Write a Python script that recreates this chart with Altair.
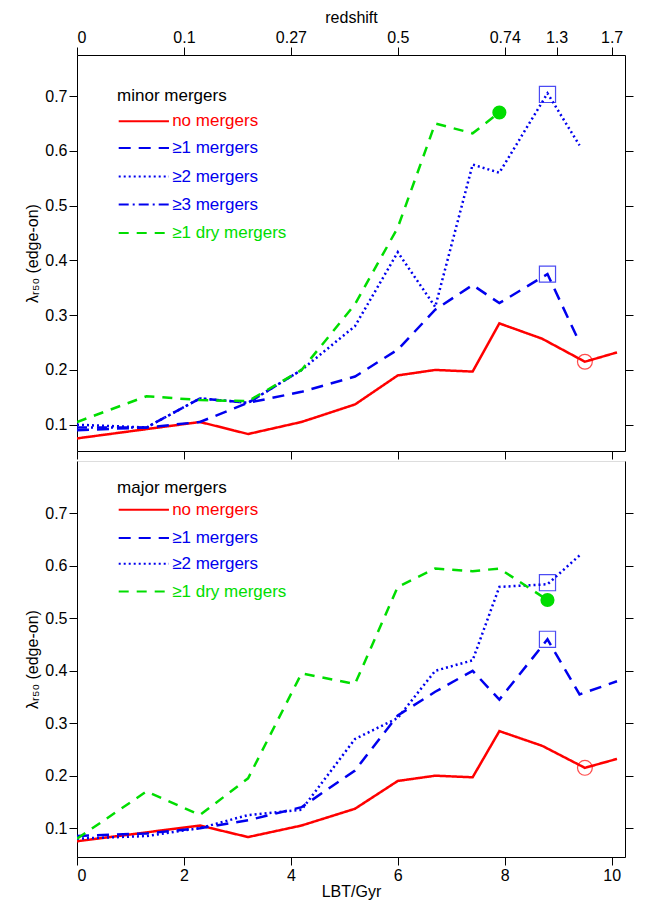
import altair as alt
import pandas as pd

LBT = [0, 1.3, 2.3, 3.2, 4.2, 5.2, 6.0, 6.7, 7.4, 7.9, 8.8, 9.4, 10.1]
red_x = [0, 2.3, 3.2, 4.2, 5.2, 6.0, 6.7, 7.4, 7.9, 8.7, 9.5, 10.1]
red_y = [0.075, 0.105, 0.083, 0.105, 0.137, 0.19, 0.2, 0.197, 0.285, 0.257, 0.215, 0.232]

t_b1 = [0.09, 0.095, 0.105, 0.14, 0.16, 0.188, 0.237, 0.31, 0.355, 0.322, 0.375, 0.25]
t_b2 = [0.1, 0.095, 0.148, 0.14, 0.2, 0.28, 0.415, 0.315, 0.575, 0.56, 0.705, 0.61]
t_b3 = [0.095, 0.095, 0.148, 0.14, 0.2]
t_g = [0.105, 0.152, 0.145, 0.143, 0.2, 0.32, 0.46, 0.65, 0.632, 0.67]

b_b1 = [0.085, 0.09, 0.1, 0.115, 0.14, 0.21, 0.315, 0.36, 0.4, 0.345, 0.46, 0.355, 0.38]
b_b2 = [0.08, 0.085, 0.1, 0.125, 0.135, 0.27, 0.31, 0.4, 0.42, 0.56, 0.565, 0.62]
b_g = [0.08, 0.17, 0.125, 0.195, 0.395, 0.375, 0.56, 0.595, 0.59, 0.595, 0.535]

z_pos = [0, 2, 4, 6, 8, 8.97, 10]
z_lab = ["0", "0.1", "0.27", "0.5", "0.74", "1.3", "1.7"]

RED, BLUE, GREEN = "#ff0000", "#0000ee", "#00dd00"
FONT = "Liberation Sans"
W, H = 548, 396
YT = "λᵣ₅₀ (edge-on)"

styles = {
    "no": (RED, [1, 0], 2.5),
    "b1": (BLUE, [12, 8], 2.5),
    "b2": (BLUE, [2, 3], 2.5),
    "b3": (BLUE, [10, 4, 2, 4], 2.5),
    "g": (GREEN, [10, 8], 2.5),
}
common = dict(labelFontSize=16, titleFontSize=16, labelFont=FONT, titleFont=FONT, grid=False,
              domainColor="black", tickColor="black", labelColor="black", titleColor="black",
              titleFontWeight="normal", tickSize=8)


def panel(series, markers, legend, ydom, is_top, bottom):
    xs = alt.Scale(domain=[0, 10.25], nice=False)
    ys = alt.Scale(domain=ydom, nice=False)
    X = lambda: alt.X("x:Q", scale=xs, axis=None)
    Y = lambda: alt.Y("y:Q", scale=ys, axis=None)
    layers = []
    mdf = pd.DataFrame({"x": [0], "y": [ydom[0]]})
    xa = alt.Axis(title="LBT/Gyr" if bottom else None, labels=bottom,
                  values=[0, 2, 4, 6, 8, 10], labelPadding=2, titlePadding=0, **common)
    ya = alt.Axis(title=YT, values=[0.1, 0.2, 0.3, 0.4, 0.5, 0.6, 0.7], format=".1f", **common)
    layers.append(alt.Chart(mdf).mark_point(opacity=0)
                  .encode(x=alt.X("x:Q", scale=xs, axis=xa), y=alt.Y("y:Q", scale=ys, axis=ya)))
    for key, xv, yv in series:
        c, d, w = styles[key]
        df = pd.DataFrame({"x": xv[:len(yv)], "y": yv})
        layers.append(alt.Chart(df).mark_line(color=c, strokeDash=d, strokeWidth=w, clip=True)
                      .encode(x=X(), y=Y()))
    for kind, c, mx, my in markers:
        df = pd.DataFrame({"x": [mx], "y": [my]})
        if kind == "circle_open":
            m = alt.Chart(df).mark_point(shape="circle", size=220, color=c, strokeWidth=1.2, filled=False)
        elif kind == "circle_filled":
            m = alt.Chart(df).mark_point(shape="circle", size=200, color=c, filled=True, opacity=1)
        else:
            m = alt.Chart(df).mark_point(shape="square", size=260, color=c, strokeWidth=1.2, filled=False)
        layers.append(m.encode(x=X(), y=Y()))
    title, entries = legend
    tdf = pd.DataFrame({"x": [0.75], "y": [title[1]], "t": [title[0]]})
    layers.append(alt.Chart(tdf).mark_text(align="left", baseline="middle", fontSize=17, font=FONT,
                                           color="black")
                  .encode(x=X(), y=Y(), text="t:N"))
    for key, label, ly in entries:
        c, d, w = styles[key]
        ldf = pd.DataFrame({"x": [0.78, 1.72], "y": [ly, ly]})
        layers.append(alt.Chart(ldf).mark_line(color=c, strokeDash=d, strokeWidth=2)
                      .encode(x=X(), y=Y()))
        tx = pd.DataFrame({"x": [1.78], "y": [ly], "t": [label]})
        layers.append(alt.Chart(tx).mark_text(align="left", baseline="middle", fontSize=17,
                                              font=FONT, color=c)
                      .encode(x=X(), y=Y(), text="t:N"))
    right_axis = alt.Axis(orient="right", values=[0.1, 0.2, 0.3, 0.4, 0.5, 0.6, 0.7],
                          labels=False, title=None, **common)
    if is_top:
        expr = " : ".join([f"datum.value == {p} ? '{l}'" for p, l in zip(z_pos, z_lab)]) + " : ''"
        top_axis = alt.Axis(orient="top", values=z_pos, labelExpr=expr, title="redshift", **common)
        xenc = alt.X("x:Q", scale=xs, axis=top_axis)
    else:
        xenc = X()
    layers.append(alt.Chart(mdf).mark_point(opacity=0)
                  .encode(x=xenc, y=alt.Y("y:Q", scale=ys, axis=right_axis)))
    return alt.layer(*layers).resolve_axis(x="independent", y="independent").properties(width=W, height=H)


top = panel(
    [("no", red_x, red_y), ("b1", LBT, t_b1), ("b2", LBT, t_b2), ("b3", LBT, t_b3), ("g", LBT, t_g)],
    [("circle_open", RED, 9.5, 0.215), ("square", BLUE, 8.8, 0.375),
     ("square", BLUE, 8.8, 0.703), ("circle_filled", GREEN, 7.9, 0.67)],
    (("minor mergers", 0.70),
     [("no", "no mergers", 0.654), ("b1", "≥1 mergers", 0.605), ("b2", "≥2 mergers", 0.553),
      ("b3", "≥3 mergers", 0.502), ("g", "≥1 dry mergers", 0.45)]),
    [0.052, 0.775], True, False)

bot = panel(
    [("no", red_x, red_y), ("b1", LBT, b_b1), ("b2", LBT, b_b2), ("g", LBT, b_g)],
    [("circle_open", RED, 9.5, 0.215), ("square", BLUE, 8.8, 0.46),
     ("square", BLUE, 8.8, 0.568), ("circle_filled", GREEN, 8.8, 0.535)],
    (("major mergers", 0.749),
     [("no", "no mergers", 0.707), ("b1", "≥1 mergers", 0.653), ("b2", "≥2 mergers", 0.604),
      ("g", "≥1 dry mergers", 0.551)]),
    [0.045, 0.8], False, True)

chart = alt.vconcat(top, bot, spacing=0).configure_view(stroke="black", strokeWidth=1).configure(
    background="white", padding={"left": 16, "top": 0, "right": 0, "bottom": 0})
chart.save("out.html", embed_options={"renderer": "svg", "actions": False})
